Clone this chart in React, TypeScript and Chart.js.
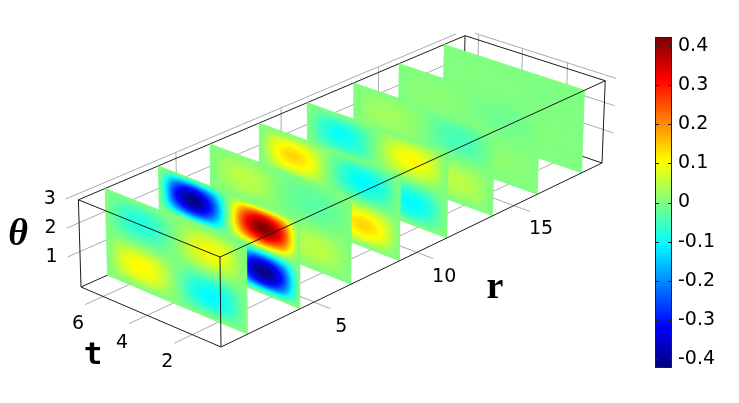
import React, { useEffect, useRef } from "react";
import { Chart, registerables } from "chart.js";

Chart.register(...registerables);

// ---------- data ----------
const rRange = [0.73, 19.81];
const tRange = [0.75, 7.02];
const thetaRange = [-0.24, 2.79];
const rTicks = [5, 10, 15];
const tTicks = [2, 4, 6];
const thetaTicks = [1, 2, 3];
const rWallTicks = [5.16, 10.21, 15.17];
const tWallTicks = [2.4, 4.4, 6.4];
const sliceR = [1.92, 4.34, 6.76, 9.13, 11.51, 13.88, 16.25, 18.67];

const Z = [0, 0, 0, 0, 0, 0, 0, 0, 0];
// each slice: rows from high theta to low theta, columns from high t to low t
const slice1 = [Z,
  [0, -0.042, -0.058, -0.042, 0, 0.052, 0.072, 0.052, 0],
  [0, -0.058, -0.08, -0.058, 0, 0.072, 0.1, 0.072, 0],
  [0, -0.042, -0.058, -0.042, 0, 0.052, 0.072, 0.052, 0],
  Z,
  [0, 0.057, 0.079, 0.057, 0, -0.057, -0.079, -0.057, 0],
  [0, 0.079, 0.11, 0.079, 0, -0.079, -0.11, -0.079, 0],
  [0, 0.057, 0.079, 0.057, 0, -0.057, -0.079, -0.057, 0],
  Z];
const slice2 = [Z,
  [0, -0.218, -0.302, -0.218, 0, 0.218, 0.302, 0.218, 0],
  [0, -0.302, -0.42, -0.302, 0, 0.302, 0.42, 0.302, 0],
  [0, -0.218, -0.302, -0.218, 0, 0.218, 0.302, 0.218, 0],
  Z,
  [0, 0.218, 0.302, 0.218, 0, -0.218, -0.302, -0.218, 0],
  [0, 0.302, 0.42, 0.302, 0, -0.302, -0.42, -0.302, 0],
  [0, 0.218, 0.302, 0.218, 0, -0.218, -0.302, -0.218, 0],
  Z];
const slice3 = [Z,
  [0, 0.026, 0.036, 0.026, 0, -0.016, -0.022, -0.016, 0],
  [0, 0.036, 0.05, 0.036, 0, -0.022, -0.03, -0.022, 0],
  [0, 0.026, 0.036, 0.026, 0, -0.016, -0.022, -0.016, 0],
  Z,
  [0, -0.016, -0.022, -0.016, 0, 0.026, 0.036, 0.026, 0],
  [0, -0.022, -0.03, -0.022, 0, 0.036, 0.05, 0.036, 0],
  [0, -0.016, -0.022, -0.016, 0, 0.026, 0.036, 0.026, 0],
  Z];
const slice4 = [Z,
  [0, 0.073, 0.101, 0.073, 0, -0.057, -0.079, -0.057, 0],
  [0, 0.101, 0.14, 0.101, 0, -0.079, -0.11, -0.079, 0],
  [0, 0.073, 0.101, 0.073, 0, -0.057, -0.079, -0.057, 0],
  Z,
  [0, -0.062, -0.086, -0.062, 0, 0.073, 0.101, 0.073, 0],
  [0, -0.086, -0.12, -0.086, 0, 0.101, 0.14, 0.101, 0],
  [0, -0.062, -0.086, -0.062, 0, 0.073, 0.101, 0.073, 0],
  Z];
const slice5 = [Z,
  [0, -0.052, -0.072, -0.052, 0, 0.057, 0.079, 0.057, 0],
  [0, -0.072, -0.1, -0.072, 0, 0.079, 0.11, 0.079, 0],
  [0, -0.052, -0.072, -0.052, 0, 0.057, 0.079, 0.057, 0],
  Z,
  [0, 0.052, 0.072, 0.052, 0, -0.057, -0.079, -0.057, 0],
  [0, 0.072, 0.1, 0.072, 0, -0.079, -0.11, -0.079, 0],
  [0, 0.052, 0.072, 0.052, 0, -0.057, -0.079, -0.057, 0],
  Z];
const slice6 = [Z,
  [0, 0.016, 0.022, 0.016, 0, -0.026, -0.036, -0.026, 0],
  [0, 0.022, 0.03, 0.022, 0, -0.036, -0.05, -0.036, 0],
  [0, 0.016, 0.022, 0.016, 0, -0.026, -0.036, -0.026, 0],
  Z,
  [0, -0.021, -0.029, -0.021, 0, 0.026, 0.036, 0.026, 0],
  [0, -0.029, -0.04, -0.029, 0, 0.036, 0.05, 0.036, 0],
  [0, -0.021, -0.029, -0.021, 0, 0.026, 0.036, 0.026, 0],
  Z];
const slice7 = [Z,
  [0, 0.005, 0.007, 0.005, 0, -0.007, -0.01, -0.007, 0],
  [0, 0.007, 0.01, 0.007, 0, -0.01, -0.015, -0.01, 0],
  [0, 0.005, 0.007, 0.005, 0, -0.007, -0.01, -0.007, 0],
  Z,
  [0, -0.005, -0.007, -0.005, 0, 0.006, 0.008, 0.006, 0],
  [0, -0.007, -0.01, -0.007, 0, 0.008, 0.012, 0.008, 0],
  [0, -0.005, -0.007, -0.005, 0, 0.006, 0.008, 0.006, 0],
  Z];
const slice8 = [Z,
  [0, 0.001, 0.002, 0.001, 0, -0.001, -0.002, -0.001, 0],
  [0, 0.002, 0.003, 0.002, 0, -0.002, -0.003, -0.002, 0],
  [0, 0.001, 0.002, 0.001, 0, -0.001, -0.002, -0.001, 0],
  Z,
  [0, -0.001, -0.002, -0.001, 0, 0.001, 0.002, 0.001, 0],
  [0, -0.002, -0.003, -0.002, 0, 0.002, 0.003, 0.002, 0],
  [0, -0.001, -0.002, -0.001, 0, 0.001, 0.002, 0.001, 0],
  Z];
const sliceGrids = [slice1, slice2, slice3, slice4, slice5, slice6, slice7, slice8];

const cbRange = [-0.42, 0.42];
const jetStops: [number, number[]][] = [
  [0, [0, 0, 127]],
  [0.125, [0, 0, 255]],
  [0.375, [0, 255, 255]],
  [0.625, [255, 255, 0]],
  [0.875, [255, 0, 0]],
  [1, [127, 0, 0]],
];

// ---------- camera (three corners of the box plus perspective terms) ----------
const O = [221, 347];
const U = [602, 163];
const V = [81, 287];
const W = [220, 257];
const pa = 0.12;
const pb = 0.04;
const pc = -0.012;
const vecA = [U[0] * (1 + pa) - O[0], U[1] * (1 + pa) - O[1]];
const vecB = [V[0] * (1 + pb) - O[0], V[1] * (1 + pb) - O[1]];
const vecC = [W[0] * (1 + pc) - O[0], W[1] * (1 + pc) - O[1]];

function project(r: number, t: number, th: number) {
  const u = (r - rRange[0]) / (rRange[1] - rRange[0]);
  const v = (t - tRange[0]) / (tRange[1] - tRange[0]);
  const w = (th - thetaRange[0]) / (thetaRange[1] - thetaRange[0]);
  const h = 1 + pa * u + pb * v + pc * w;
  return {
    x: (O[0] + vecA[0] * u + vecB[0] * v + vecC[0] * w) / h,
    y: (O[1] + vecA[1] * u + vecB[1] * v + vecC[1] * w) / h,
  };
}

function jet(val: number) {
  const f = Math.min(1, Math.max(0, (val - cbRange[0]) / (cbRange[1] - cbRange[0])));
  for (let i = 1; i < jetStops.length; i++) {
    if (f <= jetStops[i][0]) {
      const [a, ca] = jetStops[i - 1];
      const [b, cb] = jetStops[i];
      const k = (f - a) / (b - a);
      return `rgb(${Math.round(ca[0] + (cb[0] - ca[0]) * k)},${Math.round(ca[1] + (cb[1] - ca[1]) * k)},${Math.round(ca[2] + (cb[2] - ca[2]) * k)})`;
    }
  }
  return "rgb(127,0,0)";
}

function catmull(p0: number, p1: number, p2: number, p3: number, k: number) {
  return 0.5 * (2 * p1 + (p2 - p0) * k + (2 * p0 - 5 * p1 + 4 * p2 - p3) * k * k + (3 * p1 - p0 - 3 * p2 + p3) * k * k * k);
}

function sample(grid: number[][], fr: number, fc: number) {
  const n = grid.length - 1;
  const m = grid[0].length - 1;
  const y = fr * n;
  const x = fc * m;
  const iy = Math.min(n - 1, Math.floor(y));
  const ix = Math.min(m - 1, Math.floor(x));
  const cy = (i: number) => Math.max(0, Math.min(n, i));
  const cx = (i: number) => Math.max(0, Math.min(m, i));
  const rows = [-1, 0, 1, 2].map((d) => {
    const row = grid[cy(iy + d)];
    return catmull(row[cx(ix - 1)], row[cx(ix)], row[cx(ix + 1)], row[cx(ix + 2)], x - ix);
  });
  return catmull(rows[0], rows[1], rows[2], rows[3], y - iy);
}

// ---------- datasets ----------
type P3 = [number, number, number];
const [r0, r1] = rRange;
const [t0, t1] = tRange;
const [h0, h1] = thetaRange;

function line(a: P3, b: P3, color: string, order: number) {
  return {
    type: "scatter" as const,
    data: [project(...a), project(...b)],
    showLine: true,
    borderColor: color,
    borderWidth: 1,
    pointRadius: 0,
    order,
  };
}

const GRID = "#ababab";
const FRAME = "#1c1c1c";
const topTheta = thetaTicks[thetaTicks.length - 1];

const gridLines = [
  ...thetaTicks.map((h) => line([r0 - 0.55, t1, h], [r1 - 0.5, t1, h], GRID, 100)),
  ...thetaTicks.map((h) => line([r1, t1 - 0.45, h], [r1, t0 - 0.45, h], GRID, 100)),
  ...tTicks.map((t) => line([r0 - 0.8, t, h0], [r1, t, h0], GRID, 100)),
  ...rTicks.map((r) => line([r, t0 - 0.7, h0], [r, t1, h0], GRID, 100)),
  ...rWallTicks.map((r) => line([r, t1, h0], [r, t1, topTheta], GRID, 100)),
  ...tWallTicks.map((t) => line([r1, t, h0], [r1, t, topTheta], GRID, 100)),
];

const backFrame = [
  line([r0, t1, h1], [r1, t1, h1], FRAME, 90),
  line([r1, t1, h1], [r1, t0, h1], FRAME, 90),
  line([r0, t1, h0], [r1, t1, h0], FRAME, 90),
  line([r1, t1, h0], [r1, t0, h0], FRAME, 90),
  line([r1, t1, h0], [r1, t1, h1], FRAME, 90),
];

const frontFrame = [
  line([r0, t0, h1], [r1, t0, h1], FRAME, 1),
  line([r0, t0, h1], [r0, t1, h1], FRAME, 1),
  line([r0, t0, h0], [r1, t0, h0], FRAME, 1),
  line([r0, t0, h0], [r0, t1, h0], FRAME, 1),
  line([r0, t0, h0], [r0, t0, h1], FRAME, 1),
  line([r0, t1, h0], [r0, t1, h1], FRAME, 1),
  line([r1, t0, h0], [r1, t0, h1], FRAME, 1),
];

const sliceSets = sliceR.map((r, i) => ({
  type: "scatter" as const,
  data: [project(r, t1, h1), project(r, t0, h1), project(r, t0, h0), project(r, t1, h0)],
  showLine: false,
  pointRadius: 0,
  order: 50 + i,
  sliceR: r,
  grid: sliceGrids[i],
}));

const slicePainter = {
  id: "slicePainter",
  beforeDatasetDraw(chart: any, args: any) {
    const ds = chart.data.datasets[args.index];
    if (!ds.grid) return;
    const ctx = chart.ctx;
    const xs = chart.scales.x;
    const ys = chart.scales.y;
    const nc = 140;
    const nr = 88;
    const pix = (fr: number, fc: number) => {
      const p = project(ds.sliceR, t1 + (t0 - t1) * fc, h1 + (h0 - h1) * fr);
      return [xs.getPixelForValue(p.x), ys.getPixelForValue(p.y)];
    };
    ctx.save();
    ctx.lineWidth = 0.6;
    for (let i = 0; i < nr; i++) {
      for (let j = 0; j < nc; j++) {
        const a = pix(i / nr, j / nc);
        const b = pix(i / nr, (j + 1) / nc);
        const c = pix((i + 1) / nr, (j + 1) / nc);
        const d = pix((i + 1) / nr, j / nc);
        const col = jet(sample(ds.grid, (i + 0.5) / nr, (j + 0.5) / nc));
        ctx.fillStyle = col;
        ctx.strokeStyle = col;
        ctx.beginPath();
        ctx.moveTo(a[0], a[1]);
        ctx.lineTo(b[0], b[1]);
        ctx.lineTo(c[0], c[1]);
        ctx.lineTo(d[0], d[1]);
        ctx.closePath();
        ctx.fill();
        ctx.stroke();
      }
    }
    ctx.restore();
  },
};

const TICK_FONT = '19px "DejaVu Sans"';

const labelPainter = {
  id: "labelPainter",
  afterDraw(chart: any) {
    const ctx = chart.ctx;
    const xs = chart.scales.x;
    const ys = chart.scales.y;
    const put = (s: string, p: { x: number; y: number }, dx: number, dy: number) =>
      ctx.fillText(s, xs.getPixelForValue(p.x) + dx, ys.getPixelForValue(p.y) + dy);
    ctx.save();
    ctx.fillStyle = "#000";
    ctx.textAlign = "center";
    ctx.textBaseline = "middle";
    ctx.font = TICK_FONT;
    thetaTicks.forEach((h) => put(String(h), project(r0 - 0.55, t1, h), -16, 0));
    tTicks.forEach((t) => put(String(t), project(r0 - 0.8, t, h0), -7, 19));
    rTicks.forEach((r) => put(String(r), project(r, t0 - 0.7, h0), 11, 18));
    ctx.font = 'italic bold 38px "Liberation Serif"';
    ctx.fillText("θ", xs.getPixelForValue(18), ys.getPixelForValue(235));
    ctx.font = 'bold 31px "DejaVu Sans Mono"';
    ctx.fillText("t", xs.getPixelForValue(93), ys.getPixelForValue(356));
    ctx.font = 'bold 38px "Liberation Serif"';
    ctx.fillText("r", xs.getPixelForValue(495), ys.getPixelForValue(288));
    ctx.restore();
  },
};

const colorbarFrame = {
  id: "colorbarFrame",
  afterDatasetsDraw(chart: any) {
    const { ctx, chartArea: a, scales } = chart;
    ctx.save();
    ctx.strokeStyle = "#222";
    ctx.lineWidth = 1;
    ctx.strokeRect(a.left - 0.5, a.top - 0.5, a.right - a.left + 1, a.bottom - a.top + 1);
    scales.y.ticks.forEach((tk: any) => {
      const y = Math.round(scales.y.getPixelForValue(tk.value)) + 0.5;
      ctx.beginPath();
      ctx.moveTo(a.left, y);
      ctx.lineTo(a.left + 3, y);
      ctx.moveTo(a.right, y);
      ctx.lineTo(a.right - 3, y);
      ctx.stroke();
    });
    ctx.restore();
  },
};

export default function App() {
  const mainRef = useRef<HTMLCanvasElement>(null);
  const barRef = useRef<HTMLCanvasElement>(null);

  useEffect(() => {
    const main = new Chart(mainRef.current!, {
      type: "scatter",
      data: { datasets: [...gridLines, ...backFrame, ...sliceSets, ...frontFrame] as any },
      options: {
        animation: false,
        responsive: false,
        layout: { padding: 0 },
        plugins: { legend: { display: false }, tooltip: { enabled: false } },
        scales: {
          x: { type: "linear", min: 0, max: 739, display: false },
          y: { type: "linear", min: 0, max: 403, reverse: true, display: false },
        },
      },
      plugins: [slicePainter, labelPainter],
    });

    const bar = new Chart(barRef.current!, {
      type: "bar",
      data: {
        labels: ["value"],
        datasets: [
          {
            data: [cbRange as any],
            barPercentage: 1,
            categoryPercentage: 1,
            backgroundColor: (c: any) => {
              const a = c.chart.chartArea;
              if (!a) return "#000";
              const g = c.chart.ctx.createLinearGradient(0, a.bottom, 0, a.top);
              jetStops.forEach(([s, col]) => g.addColorStop(s, `rgb(${col.join(",")})`));
              return g;
            },
          },
        ],
      },
      options: {
        animation: false,
        responsive: false,
        layout: { padding: { left: 6, top: 38, bottom: 36, right: 0 } },
        plugins: { legend: { display: false }, tooltip: { enabled: false } },
        scales: {
          x: { display: false, grid: { display: false } },
          y: {
            position: "right",
            min: cbRange[0],
            max: cbRange[1],
            border: { display: false },
            grid: { display: false, drawTicks: false },
            afterFit: (s: any) => {
              s.width = 68;
            },
            afterBuildTicks: (s: any) => {
              s.ticks = [-0.4, -0.3, -0.2, -0.1, 0, 0.1, 0.2, 0.3, 0.4].map((value) => ({ value }));
            },
            ticks: {
              color: "#000",
              padding: 7,
              crossAlign: "near",
              autoSkip: false,
              font: { family: '"DejaVu Sans"', size: 19 },
              callback: (v: any) => (Math.abs(v) < 1e-9 ? "0" : Number(v).toFixed(1)),
            },
          },
        },
      },
      plugins: [colorbarFrame],
    });

    return () => {
      main.destroy();
      bar.destroy();
    };
  }, []);

  return (
    <div style={{ position: "fixed", left: 0, top: 0, width: 739, height: 403, background: "#fff", overflow: "hidden" }}>
      <canvas ref={mainRef} width={739} height={403} style={{ position: "absolute", left: 0, top: 0 }} />
      <canvas ref={barRef} width={89} height={403} style={{ position: "absolute", left: 650, top: 0 }} />
    </div>
  );
}
